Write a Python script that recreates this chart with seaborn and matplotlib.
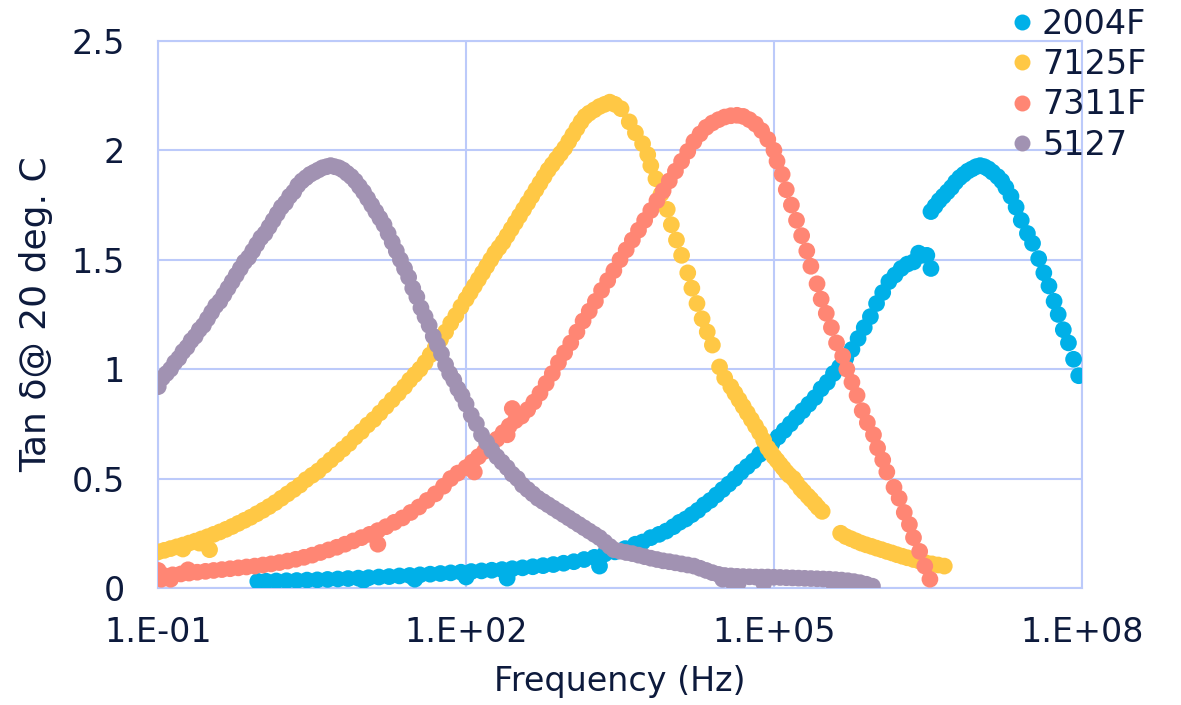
import numpy as np
import pandas as pd
import matplotlib
matplotlib.use("Agg")
import matplotlib.pyplot as plt
from matplotlib.lines import Line2D
import seaborn as sns

# Values: log10(frequency / Hz) and tan delta at 20 deg C
series_names = ["2004F", "7125F", "7311F", "5127"]
series_colors = ["#00b0e8", "#ffc845", "#ff8674", "#a192b2"]

logf_2004F = [
    -0.03, 0.05, 0.15, 0.25, 0.35, 0.45, 0.55, 0.65, 0.75, 0.85, 0.95, 1.05, 1.15, 1.25,
    1.35, 1.45, 1.55, 1.65, 1.75, 1.85, 1.95, 2.05, 2.15, 2.25, 2.35, 2.45, 2.55, 2.65,
    2.75, 2.85, 2.95, 3.05, 3.15, 3.25, 3.35, 3.45, 3.55, 3.65, 3.72, 3.80, 3.88, 3.95,
    4.02, 4.08, 4.14, 4.20, 4.26, 4.32, 4.38, 4.44, 4.50, 4.56, 4.62, 4.68, 4.74, 4.80,
    4.86, 4.92, 4.98, 5.04, 5.10, 5.16, 5.22, 5.28, 5.34, 5.40, 5.46, 5.52, 5.58, 5.64,
    5.70, 5.76, 5.82, 5.88, 5.94, 6.00, 6.06, 6.12, 6.18, 6.24, 6.30, 6.36, 6.41, 6.44,
    6.49, 6.53,
    1.00, 1.50, 2.00, 2.40, 3.30,
    6.53, 6.57, 6.61, 6.65, 6.69, 6.73, 6.77, 6.81, 6.85, 6.89, 6.93, 6.97, 7.01, 7.05,
    7.09, 7.13, 7.18, 7.22, 7.26, 7.31, 7.36, 7.41, 7.47, 7.52, 7.58, 7.63, 7.68, 7.73,
    7.77, 7.82, 7.87, 7.92, 7.97,
]
tan_2004F = [
    0.030, 0.031, 0.032, 0.033, 0.034, 0.036, 0.037, 0.039, 0.041, 0.043, 0.045, 0.047, 0.050, 0.052,
    0.055, 0.057, 0.060, 0.063, 0.066, 0.069, 0.072, 0.075, 0.078, 0.081, 0.084, 0.088, 0.092, 0.097,
    0.102, 0.107, 0.113, 0.120, 0.130, 0.140, 0.155, 0.165, 0.180, 0.200, 0.210, 0.230, 0.245, 0.260,
    0.280, 0.300, 0.315, 0.335, 0.355, 0.380, 0.400, 0.425, 0.450, 0.475, 0.500, 0.530, 0.555, 0.580,
    0.610, 0.640, 0.660, 0.690, 0.720, 0.750, 0.780, 0.810, 0.840, 0.870, 0.910, 0.940, 0.980, 1.010,
    1.050, 1.090, 1.140, 1.190, 1.240, 1.300, 1.350, 1.400, 1.430, 1.460, 1.480, 1.490, 1.530, 1.520,
    1.520, 1.460,
    0.035, 0.040, 0.050, 0.045, 0.100,
    1.720, 1.745, 1.770, 1.790, 1.810, 1.830, 1.855, 1.875, 1.890, 1.905, 1.915, 1.925, 1.930, 1.925,
    1.915, 1.900, 1.880, 1.860, 1.830, 1.790, 1.740, 1.680, 1.620, 1.575, 1.505, 1.440, 1.380, 1.310,
    1.250, 1.180, 1.120, 1.045, 0.970,
]

logf_7125F = [
    -1.00, -0.94, -0.88, -0.82, -0.76, -0.70, -0.64, -0.58, -0.52, -0.46, -0.40, -0.34, -0.28, -0.22,
    -0.16, -0.10, -0.04, 0.02, 0.08, 0.14, 0.20, 0.26, 0.32, 0.38, 0.44, 0.50, 0.56, 0.62,
    0.68, 0.74, 0.80, 0.86, 0.92, 0.98, 1.04, 1.10, 1.16, 1.22, 1.28, 1.34, 1.40, 1.45,
    1.50, 1.55, 1.60, 1.65, 1.70, 1.75, 1.80, 1.85, 1.90, 1.95, 2.00, 2.04, 2.08, 2.12,
    2.16, 2.20, 2.24, 2.28, 2.32, 2.36, 2.40, 2.44, 2.48, 2.52, 2.56, 2.60, 2.64, 2.68,
    2.72, 2.76, 2.80, 2.84, 2.88, 2.92, 2.96, 3.00, 3.04, 3.08, 3.12, 3.16, 3.20, 3.25,
    3.30, 3.35, 3.40, 3.45, 3.51,
    -0.76, -0.60, -0.50,
    3.59, 3.65, 3.72, 3.77, 3.80, 3.85, 3.90, 3.96, 4.00, 4.05, 4.10, 4.16, 4.20, 4.25,
    4.30, 4.35, 4.40, 4.47, 4.52, 4.58,
    4.62, 4.66, 4.70, 4.74, 4.78, 4.82, 4.86, 4.90, 4.94, 4.97, 5.00, 5.03, 5.06, 5.09,
    5.12, 5.15, 5.19, 5.22, 5.26, 5.29, 5.33, 5.36, 5.40, 5.43, 5.47,
    5.65, 5.70, 5.75, 5.80, 5.85, 5.90, 5.95, 6.00, 6.05, 6.10, 6.15, 6.20, 6.25, 6.30,
    6.36, 6.42, 6.48, 6.54, 6.60, 6.66,
]
tan_7125F = [
    0.165, 0.172, 0.180, 0.188, 0.196, 0.205, 0.214, 0.224, 0.234, 0.245, 0.256, 0.268, 0.281, 0.295,
    0.309, 0.323, 0.339, 0.355, 0.372, 0.390, 0.410, 0.430, 0.450, 0.470, 0.495, 0.515, 0.535, 0.560,
    0.585, 0.610, 0.635, 0.660, 0.690, 0.715, 0.745, 0.770, 0.800, 0.830, 0.860, 0.890, 0.920, 0.950,
    0.975, 1.000, 1.030, 1.065, 1.100, 1.135, 1.170, 1.210, 1.245, 1.285, 1.320, 1.350, 1.380, 1.410,
    1.440, 1.470, 1.500, 1.530, 1.555, 1.580, 1.610, 1.640, 1.670, 1.700, 1.730, 1.760, 1.790, 1.820,
    1.850, 1.880, 1.910, 1.935, 1.960, 1.985, 2.010, 2.040, 2.070, 2.100, 2.130, 2.155, 2.170, 2.185,
    2.200, 2.210, 2.220, 2.210, 2.190,
    0.178, 0.205, 0.175,
    2.130, 2.080, 2.030, 1.980, 1.930, 1.870, 1.800, 1.730, 1.660, 1.590, 1.520, 1.440, 1.370, 1.300,
    1.230, 1.170, 1.110, 1.010, 0.960, 0.920,
    0.890, 0.860, 0.830, 0.800, 0.770, 0.740, 0.710, 0.675, 0.640, 0.620, 0.600, 0.583, 0.565, 0.548,
    0.530, 0.515, 0.500, 0.480, 0.455, 0.440, 0.420, 0.405, 0.385, 0.368, 0.350,
    0.250, 0.235, 0.225, 0.215, 0.205, 0.197, 0.190, 0.182, 0.175, 0.167, 0.160, 0.152, 0.145, 0.138,
    0.130, 0.122, 0.115, 0.110, 0.105, 0.100,
]

logf_7311F = [
    -1.00, -1.00, -0.97, -0.88, -0.71,
    -0.94, -0.86, -0.78, -0.70, -0.62, -0.54, -0.46, -0.38, -0.30, -0.22, -0.14, -0.06, 0.02, 0.10,
    0.18, 0.26, 0.34, 0.42, 0.50, 0.58, 0.66, 0.74, 0.82, 0.90, 0.98, 1.06, 1.14, 1.22,
    1.30, 1.38, 1.46, 1.54, 1.62, 1.70, 1.78, 1.85, 1.92, 2.00, 2.06, 2.12, 2.18, 2.24,
    2.30, 2.36, 2.42, 2.48, 2.54, 2.60, 2.66, 2.72, 2.78, 2.84, 2.90, 2.96, 3.02, 3.08,
    3.14, 3.20, 3.26, 3.32, 3.38, 3.44, 3.50, 3.56, 3.62, 3.68, 3.74, 3.80, 3.86, 3.92,
    3.98, 4.04, 4.10, 4.16, 4.22, 4.28, 4.34, 4.40, 4.46, 4.52, 4.58, 4.64, 4.70, 4.76,
    4.82, 4.88, 4.94, 5.00,
    1.14, 2.08, 2.40, 2.45,
    5.03, 5.08, 5.12, 5.17, 5.22, 5.27, 5.32, 5.36, 5.42, 5.46, 5.51, 5.56, 5.61, 5.67,
    5.71, 5.76, 5.81, 5.86, 5.91, 5.97, 6.01, 6.06, 6.10, 6.17, 6.22, 6.27, 6.32, 6.36,
    6.42, 6.47, 6.52,
]
tan_7311F = [
    0.050, 0.080, 0.040, 0.040, 0.083,
    0.056, 0.060, 0.064, 0.068, 0.072, 0.076, 0.080, 0.084, 0.088, 0.092, 0.096, 0.100, 0.105, 0.110,
    0.116, 0.123, 0.131, 0.140, 0.150, 0.162, 0.174, 0.186, 0.200, 0.215, 0.230, 0.245, 0.262, 0.280,
    0.300, 0.320, 0.345, 0.370, 0.400, 0.430, 0.465, 0.500, 0.525, 0.550, 0.575, 0.600, 0.625, 0.650,
    0.680, 0.710, 0.740, 0.765, 0.785, 0.815, 0.850, 0.890, 0.935, 0.980, 1.030, 1.075, 1.120, 1.170,
    1.220, 1.265, 1.310, 1.360, 1.405, 1.450, 1.500, 1.545, 1.590, 1.635, 1.680, 1.725, 1.770, 1.815,
    1.860, 1.905, 1.950, 1.995, 2.040, 2.075, 2.105, 2.125, 2.140, 2.152, 2.158, 2.160, 2.155, 2.140,
    2.120, 2.090, 2.050, 2.000,
    0.200, 0.530, 0.700, 0.820,
    1.950, 1.890, 1.820, 1.750, 1.680, 1.610, 1.540, 1.470, 1.390, 1.320, 1.255, 1.190, 1.120, 1.060,
    1.000, 0.940, 0.880, 0.810, 0.755, 0.700, 0.640, 0.585, 0.530, 0.460, 0.410, 0.345, 0.290, 0.230,
    0.167, 0.100, 0.040,
]

logf_5127 = [
    -1.00, -0.99, -0.96, -0.92, -0.88, -0.84, -0.80, -0.76, -0.72, -0.68, -0.64, -0.60, -0.56, -0.52,
    -0.48, -0.44, -0.40, -0.36, -0.32, -0.28, -0.24, -0.20, -0.16, -0.12, -0.08, -0.04, 0.00, 0.04,
    0.08, 0.12, 0.16, 0.20, 0.24, 0.28, 0.32, 0.36, 0.40, 0.44, 0.48, 0.52, 0.56, 0.60,
    0.64, 0.68, 0.72, 0.76, 0.80, 0.84, 0.88, 0.92, 0.96, 1.00, 1.04, 1.08, 1.12, 1.16,
    1.20, 1.24, 1.28, 1.32, 1.36, 1.40, 1.44, 1.48, 1.52, 1.56, 1.60, 1.64, 1.68, 1.72,
    1.76, 1.80, 1.84, 1.88, 1.92, 1.96, 2.00, 2.05, 2.10, 2.15, 2.20, 2.25, 2.30, 2.35,
    2.40, 2.45, 2.50, 2.55, 2.60, 2.65, 2.70, 2.75, 2.80, 2.85, 2.90, 2.95, 3.00, 3.05,
    3.10, 3.15, 3.20, 3.25, 3.30, 3.35, 3.40, 3.44, 3.50, 3.56, 3.62, 3.68, 3.74, 3.80,
    3.86, 3.92, 3.98, 4.04, 4.10, 4.16, 4.22, 4.28, 4.34, 4.40, 4.46, 4.52, 4.58, 4.64,
    4.70, 4.76, 4.82, 4.88, 4.94, 5.00, 5.06, 5.12, 5.18, 5.24, 5.30, 5.36, 5.42, 5.48,
    5.54, 5.60, 5.66, 5.72, 5.78, 5.84, 5.90, 5.96,
    4.50, 4.60, 4.65, 4.90, 5.58,
]
tan_5127 = [
    0.920, 0.950, 0.960, 0.980, 1.000, 1.030, 1.050, 1.080, 1.100, 1.130, 1.150, 1.180, 1.200, 1.230,
    1.260, 1.290, 1.310, 1.340, 1.370, 1.400, 1.430, 1.460, 1.490, 1.510, 1.540, 1.570, 1.600, 1.620,
    1.650, 1.680, 1.710, 1.740, 1.760, 1.790, 1.810, 1.840, 1.860, 1.875, 1.890, 1.900, 1.910, 1.920,
    1.925, 1.930, 1.925, 1.920, 1.910, 1.895, 1.880, 1.860, 1.835, 1.810, 1.780, 1.750, 1.720, 1.690,
    1.660, 1.620, 1.580, 1.540, 1.500, 1.460, 1.420, 1.370, 1.330, 1.280, 1.240, 1.200, 1.150, 1.110,
    1.070, 1.020, 0.980, 0.950, 0.910, 0.880, 0.840, 0.790, 0.750, 0.700, 0.665, 0.630, 0.600, 0.575,
    0.550, 0.520, 0.500, 0.470, 0.450, 0.430, 0.410, 0.395, 0.380, 0.365, 0.350, 0.335, 0.320, 0.305,
    0.290, 0.275, 0.260, 0.245, 0.230, 0.210, 0.190, 0.175, 0.168, 0.162, 0.157, 0.150, 0.143, 0.136,
    0.130, 0.124, 0.120, 0.115, 0.110, 0.105, 0.100, 0.090, 0.080, 0.070, 0.062, 0.057, 0.055, 0.053,
    0.052, 0.051, 0.050, 0.050, 0.050, 0.049, 0.048, 0.047, 0.046, 0.045, 0.044, 0.043, 0.042, 0.041,
    0.040, 0.038, 0.036, 0.033, 0.029, 0.024, 0.017, 0.008,
    0.040, 0.025, 0.020, 0.022, 0.020,
]

x_ticks = [1e-1, 1e2, 1e5, 1e8]
x_tick_labels = ["1.E-01", "1.E+02", "1.E+05", "1.E+08"]
y_ticks = [0, 0.5, 1, 1.5, 2, 2.5]
y_tick_labels = ["0", "0.5", "1", "1.5", "2", "2.5"]

frames = []
for name, lf, tv in [("2004F", logf_2004F, tan_2004F), ("7125F", logf_7125F, tan_7125F),
                     ("7311F", logf_7311F, tan_7311F), ("5127", logf_5127, tan_5127)]:
    frames.append(pd.DataFrame({"freq": 10.0 ** np.array(lf), "tan": tv, "sample": name}))
df = pd.concat(frames, ignore_index=True)

sns.set_style("white")
plt.rcParams["font.family"] = ["DejaVu Sans"]
text_color = "#0d1a3c"
grid_color = "#bccafa"

fig, ax = plt.subplots(figsize=(11.81, 7.05), dpi=100)
fig.subplots_adjust(left=0.134, right=0.916, top=0.942, bottom=0.166)

sns.scatterplot(data=df, x="freq", y="tan", hue="sample", hue_order=series_names,
                palette=series_colors, s=145, linewidth=0, alpha=1, legend=False, ax=ax, zorder=3)

ax.set_xscale("log")
ax.set_xlim(1e-1, 1e8)
ax.set_ylim(0, 2.5)
ax.set_xticks(x_ticks)
ax.set_xticklabels(x_tick_labels)
ax.set_yticks(y_ticks)
ax.set_yticklabels(y_tick_labels)
ax.minorticks_off()
ax.grid(True, color=grid_color, linewidth=1.5)
ax.set_axisbelow(True)
for sp in ax.spines.values():
    sp.set_color(grid_color)
    sp.set_linewidth(1.5)

ax.tick_params(axis="both", length=0, labelsize=24, colors=text_color)
ax.tick_params(axis="y", pad=24)
ax.tick_params(axis="x", pad=20)

ax.set_xlabel("Frequency (Hz)", fontsize=24, color=text_color, labelpad=12)
ax.set_ylabel("Tan δ@ 20 deg. C", fontsize=26, color=text_color, labelpad=13)

handles = [Line2D([0], [0], marker="o", linestyle="", markersize=11.5,
                  markerfacecolor=c, markeredgewidth=0) for c in series_colors]
fig.legend(handles, series_names, loc="upper left", bbox_to_anchor=(0.854, 0.989),
           frameon=False, fontsize=24, labelcolor=text_color, handlelength=0.8,
           handletextpad=0.2, labelspacing=0.22, borderpad=0, borderaxespad=0)

fig.savefig("out.png", dpi=100)
